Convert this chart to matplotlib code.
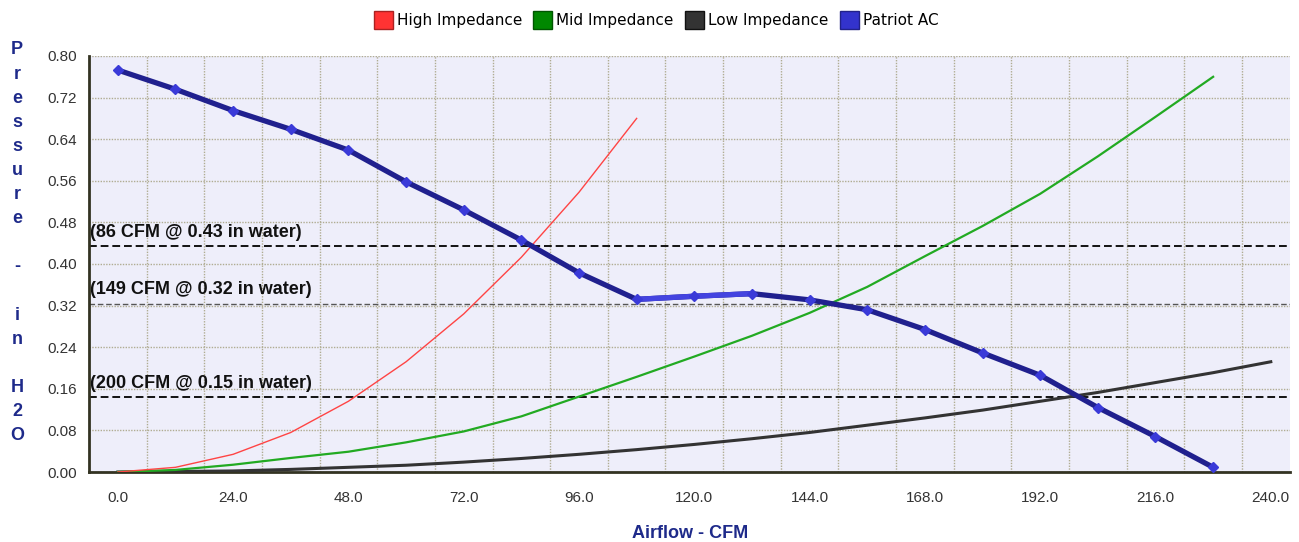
import numpy as np
import matplotlib
matplotlib.use("Agg")
import matplotlib.pyplot as plt
from matplotlib.patches import Patch

# airflow (CFM) and pressure (in H2O)
high_x = [0, 12, 24, 36, 48, 60, 72, 84, 96, 108]
high_y = [0.000, 0.009, 0.034, 0.076, 0.136, 0.212, 0.304, 0.413, 0.538, 0.680]

mid_x = [0, 12, 24, 36, 48, 60, 72, 84, 96, 108, 120, 132, 144, 156, 168, 180, 192, 204, 216, 228]
mid_y = [0.000, 0.004, 0.014, 0.027, 0.039, 0.057, 0.078, 0.107, 0.145, 0.183, 0.222, 0.262, 0.306,
         0.356, 0.415, 0.473, 0.535, 0.607, 0.683, 0.760]

low_x = [0, 12, 24, 36, 48, 60, 72, 84, 96, 108, 120, 132, 144, 156, 168, 180, 192, 204, 216, 228, 240]
low_y = [0.000, 0.001, 0.002, 0.005, 0.009, 0.013, 0.019, 0.026, 0.034, 0.043, 0.053, 0.064, 0.076,
         0.090, 0.104, 0.119, 0.136, 0.153, 0.172, 0.191, 0.212]

fan_x = [0, 12, 24, 36, 48, 60, 72, 84, 96, 108, 120, 132, 144, 156, 168, 180, 192, 204, 216, 228]
fan_y = [0.773, 0.736, 0.695, 0.659, 0.619, 0.558, 0.504, 0.446, 0.383, 0.332, 0.338, 0.343, 0.331,
         0.312, 0.274, 0.229, 0.186, 0.124, 0.068, 0.009]

# operating points (dashed lines)
op_y = [0.434, 0.324, 0.144]
op_labels = ["(86 CFM @ 0.43 in water)", "(149 CFM @ 0.32 in water)", "(200 CFM @ 0.15 in water)"]

x_ticks = [0, 24, 48, 72, 96, 120, 144, 168, 192, 216, 240]
y_ticks = [0.00, 0.08, 0.16, 0.24, 0.32, 0.40, 0.48, 0.56, 0.64, 0.72, 0.80]

navy = "#1e2a8a"
arial = "Liberation Sans"

fig = plt.figure(figsize=(12.99, 5.42), dpi=100)
ax = fig.add_axes([89 / 1299, 70 / 542, 1201 / 1299, 416 / 542])
ax.set_facecolor("#eeeefa")

ax.set_xlim(-6, 244)
ax.set_ylim(0, 0.80)

# grid: vertical lines sit between the labelled ticks
ax.set_xticks(np.arange(6, 240, 12), minor=True)
ax.set_xticks(x_ticks)
ax.set_xticklabels([f"{v:.1f}" for v in x_ticks])
ax.set_yticks(y_ticks)
ax.set_yticklabels([f"{v:.2f}" for v in y_ticks])
ax.grid(False)
grid_kw = dict(color="#b0ac92", linestyle=(0, (1, 1)), linewidth=1)
ax.grid(True, which="minor", axis="x", **grid_kw)
ax.grid(True, which="major", axis="y", **grid_kw)
ax.tick_params(which="both", length=0)
ax.tick_params(axis="x", pad=14, labelsize=11, labelcolor="#333333")
ax.tick_params(axis="y", pad=9, labelsize=11, labelcolor="#333333")
for lab in ax.get_xticklabels() + ax.get_yticklabels():
    lab.set_family(arial)

for s in ["top", "right"]:
    ax.spines[s].set_visible(False)
ax.spines["left"].set_color("#333322")
ax.spines["left"].set_linewidth(2)
ax.spines["bottom"].set_color("#333322")
ax.spines["bottom"].set_linewidth(2)

# operating point lines + labels
for i, (yv, txt) in enumerate(zip(op_y, op_labels)):
    if i == 1:
        ax.axhline(yv, color="#555555", linestyle=(0, (4, 2)), linewidth=1.0, zorder=2)
    else:
        ax.axhline(yv, color="#111111", linestyle=(0, (4, 2)), linewidth=1.4, zorder=2)
    ax.text(-5.8, yv + 0.01, txt, fontsize=13, fontweight="bold", family=arial,
            color="#111111", ha="left", va="bottom", zorder=6)

# system curves
ax.plot(low_x, low_y, color="#333333", linewidth=2.2, zorder=3)
ax.plot(mid_x, mid_y, color="#22aa22", linewidth=1.6, zorder=3)
ax.plot(high_x, high_y, color="#ff4444", linewidth=1.0, zorder=3)

# fan curve
ax.plot(fan_x, fan_y, color="#20208e", linewidth=3.8, zorder=4, solid_capstyle="round")
ax.plot(fan_x[9:12], fan_y[9:12], color="#4444e0", linewidth=3.8, zorder=4)
ax.plot(fan_x, fan_y, linestyle="none", marker="D", markersize=5, color="#3a3ad8", zorder=5)

# axis titles
fig.text(690 / 1299, 1 - 533 / 542, "Airflow - CFM", ha="center", va="center",
         fontsize=13, fontweight="bold", family=arial, color=navy)
ylab = "Pressure - in H2O"
for i, ch in enumerate(ylab):
    if ch == " ":
        continue
    fig.text(17 / 1299, 1 - (50 + 24.1 * i) / 542, ch, ha="center", va="center",
             fontsize=13, fontweight="bold", family=arial, color=navy)

handles = [Patch(facecolor="#ff3333", edgecolor="#aa2222", label="High Impedance"),
           Patch(facecolor="#008800", edgecolor="#005500", label="Mid Impedance"),
           Patch(facecolor="#333333", edgecolor="#111111", label="Low Impedance"),
           Patch(facecolor="#3333cc", edgecolor="#222288", label="Patriot AC")]
fig.legend(handles=handles, loc="center", bbox_to_anchor=(656 / 1299, 1 - 20 / 542), ncol=4,
           frameon=False, prop={"family": "DejaVu Sans", "size": 11},
           handlelength=1.25, handleheight=1.4, handletextpad=0.25, columnspacing=0.75,
           borderpad=0, borderaxespad=0)

fig.savefig("out.png", dpi=100, facecolor="white")
